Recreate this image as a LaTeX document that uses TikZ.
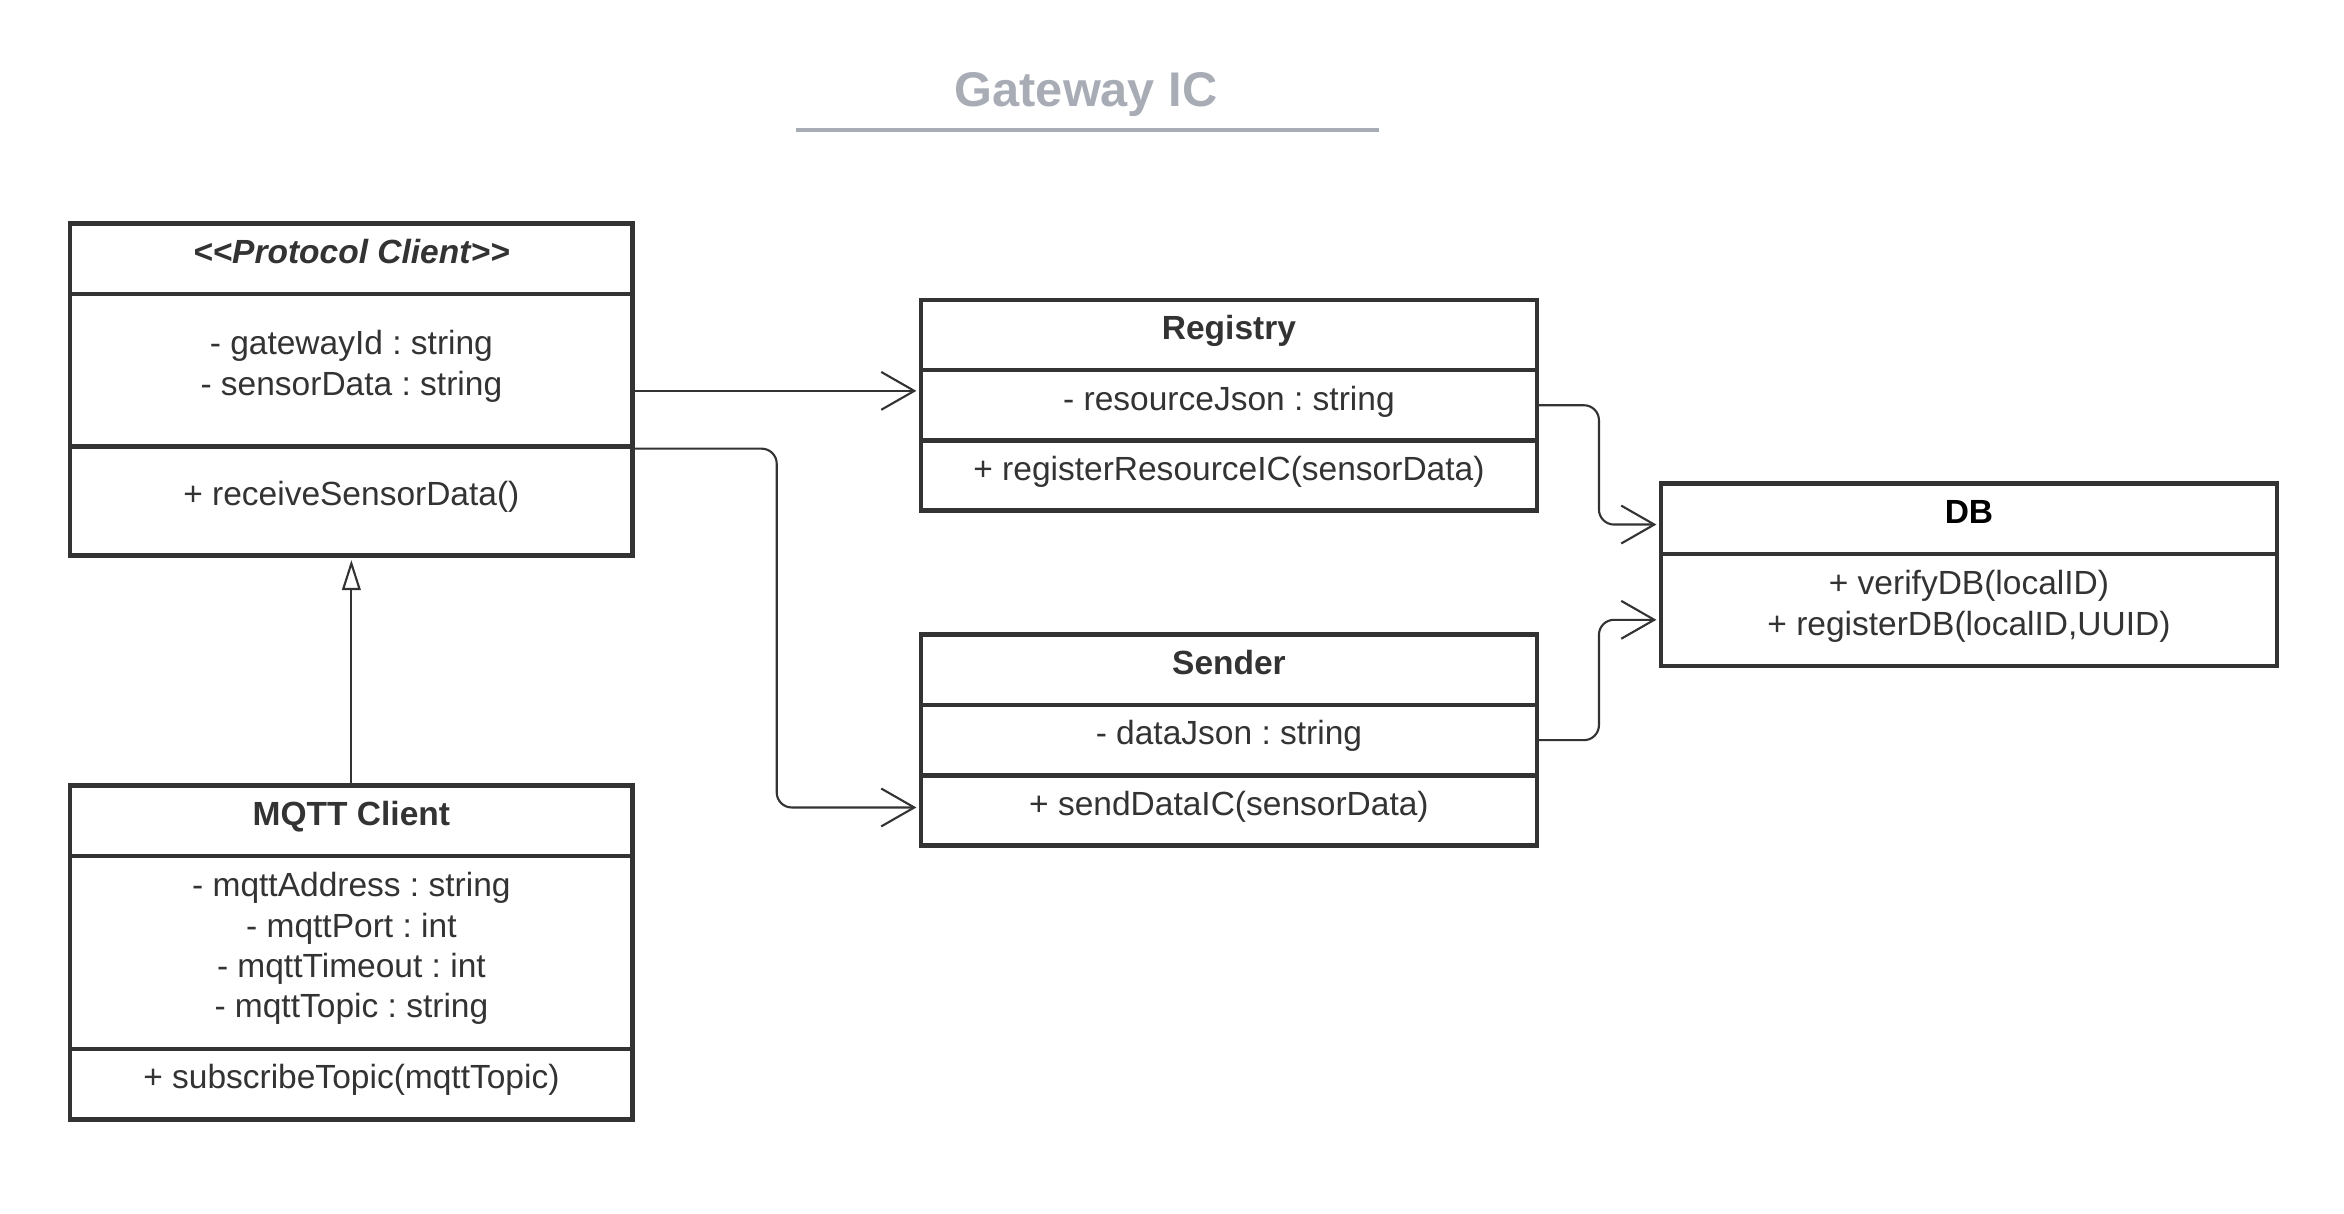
\documentclass[tikz,border=0pt]{standalone}
\usepackage{fontspec}
\setmainfont{Liberation Sans}
\frenchspacing
\usetikzlibrary{arrows.meta,calc}
\definecolor{ink}{HTML}{333333}
\definecolor{titlegray}{HTML}{A7ACB5}
\newcommand{\uptext}[1]{\raisebox{1.1pt}[\height][\depth]{\begin{tabular}{@{}c@{}}#1\end{tabular}}}
\tikzset{
  comp/.style={draw=ink, line width=1.5pt, anchor=north west, inner sep=0pt,
    text=ink, font=\fontsize{11.15}{13.45}\selectfont},
  wide/.style={minimum width=187.1pt},
  wider/.style={minimum width=205pt},
  hdr/.style={font=\fontsize{11.15}{13.45}\selectfont\bfseries},
  assoc/.style={draw=ink, line width=0.7pt, shorten >=0.75pt, -{Straight Barb[length=11pt,width=12.6pt,line width=0.7pt]}},
  inherit/.style={draw=ink, line width=0.7pt, shorten >=0.75pt, -{Triangle[open,length=10pt,width=6.2pt,line width=0.7pt,fill=white]}},
}
\begin{document}
\begin{tikzpicture}[x=0.5pt,y=-0.5pt]
\useasboundingbox (0,0) rectangle (1560,807.3);
\fill[white] (0,0) rectangle (1560,807.3);
% title
\node[text=titlegray, font=\fontsize{16.2}{19}\selectfont\bfseries] (title) at (722.8,63) {Gateway IC};
\coordinate (ulA) at (529.8,86.6);
\coordinate (ulB) at (917.9,86.6);
\draw[titlegray, line width=1.3pt] (ulA) -- (ulB);
% Protocol Client
\node[comp, wide, minimum height=23.4pt, hdr] (pch) at (45.25,147.3) {\uptext{\itshape {<}{<}Protocol Client{>}{>}}};
\node[comp, wide, minimum height=50.75pt] (pca) at (45.25,194.1) {\uptext{- gatewayId : string\\- sensorData : string}};
\node[comp, wide, minimum height=36.3pt] (pcm) at (45.25,295.6) {\uptext{+ receiveSensorData()}};
% Registry
\node[comp, wider, minimum height=23.4pt, hdr] (rgh) at (611.4,198.0) {\uptext{Registry}};
\node[comp, wider, minimum height=23.4pt] (rga) at (611.4,244.8) {\uptext{- resourceJson : string}};
\node[comp, wider, minimum height=23.4pt] (rgm) at (611.4,291.6) {\uptext{+ registerResourceIC(sensorData)}};
% Sender
\node[comp, wider, minimum height=23.4pt, hdr] (snh) at (611.4,420.9) {\uptext{Sender}};
\node[comp, wider, minimum height=23.4pt] (sna) at (611.4,467.7) {\uptext{- dataJson : string}};
\node[comp, wider, minimum height=23.4pt] (snm) at (611.4,514.5) {\uptext{+ sendDataIC(sensorData)}};
% DB
\node[comp, wider, minimum height=23.4pt, hdr, text=black] (dbh) at (1103.9,320.4) {\uptext{DB}};
\node[comp, wider, minimum height=37.3pt] (dbm) at (1103.9,367.2) {\uptext{+ verifyDB(localID)\\+ registerDB(localID,UUID)}};
% MQTT Client
\node[comp, wide, minimum height=23.4pt, hdr] (mqh) at (45.25,521.4) {\uptext{MQTT Client}};
\node[comp, wide, minimum height=64.2pt] (mqa) at (45.25,568.2) {\uptext{- mqttAddress : string\\- mqttPort : int\\- mqttTimeout : int\\- mqttTopic : string}};
\node[comp, wide, minimum height=23.4pt] (mqm) at (45.25,696.6) {\uptext{+ subscribeTopic(mqttTopic)}};
% connectors
\draw[assoc] ([yshift=-6.9pt]pca.east) -- ([yshift=-6.9pt]pca.east -| rga.west);
\draw[assoc, rounded corners=5pt] ([yshift=-1.5pt]pcm.north east) -| ($(pcm.east)!0.5!(snm.west)$) |- ([yshift=1pt]snm.west);
\draw[assoc, rounded corners=5pt] (rga.east) -| ($(rga.east)!0.5!(dbh.west)$) |- ([yshift=-1.9pt]dbh.west);
\draw[assoc, rounded corners=5pt] (sna.east) -| ($(sna.east)!0.5!(dbm.west)$) |- ([yshift=-3.25pt]dbm.west);
\draw[inherit] (mqh.north) -- (pcm.south);
\end{tikzpicture}
\end{document}
